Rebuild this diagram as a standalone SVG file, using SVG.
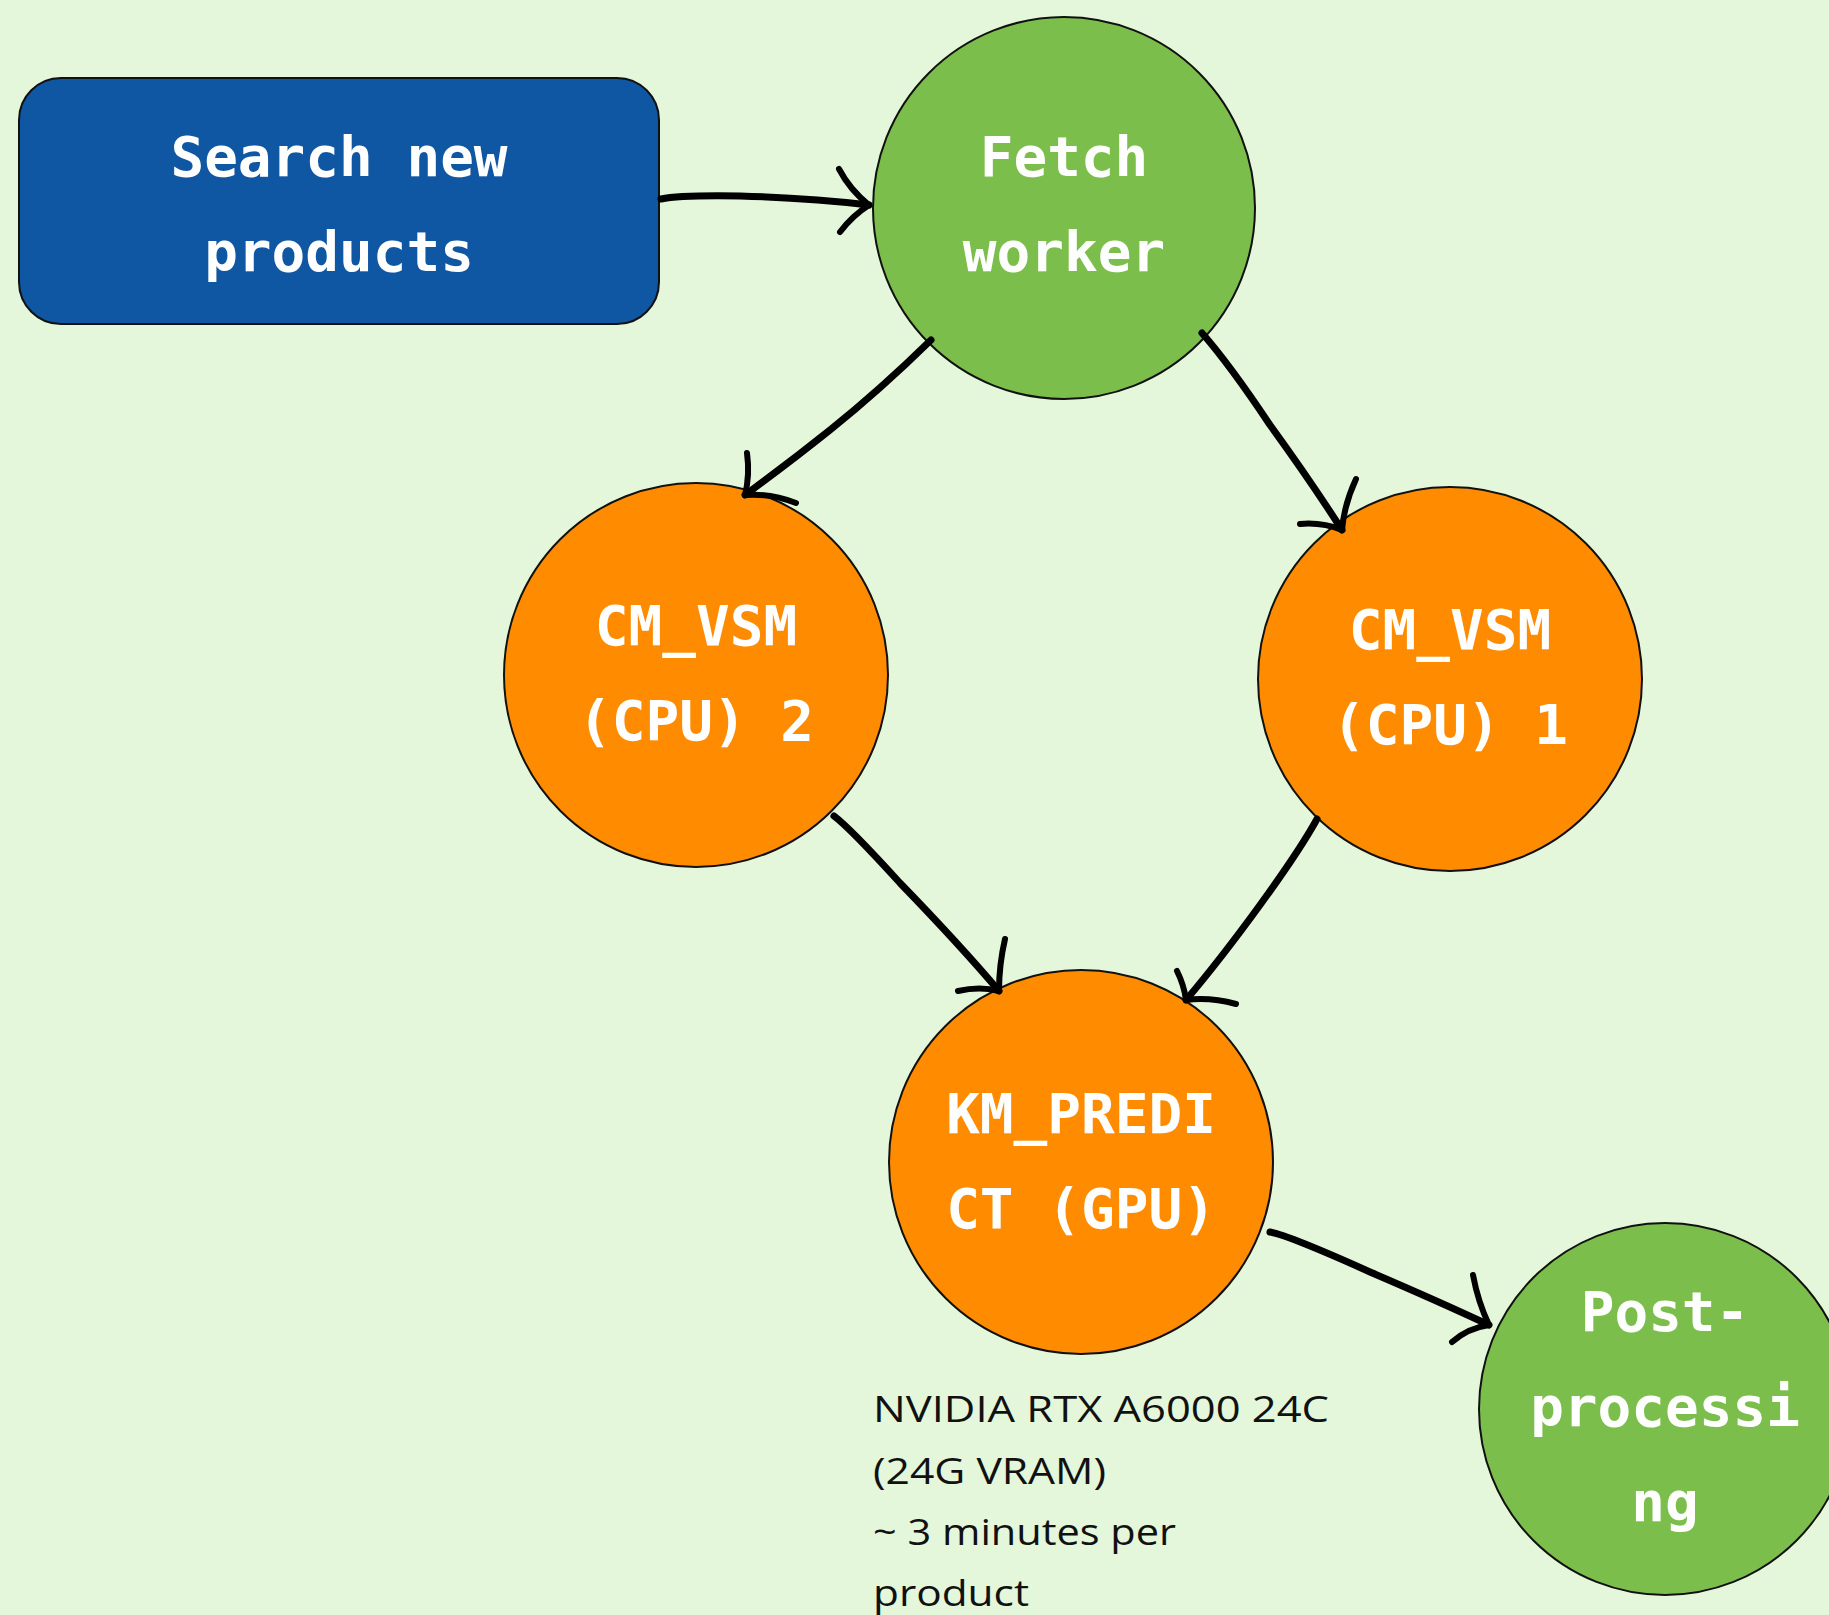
<svg xmlns="http://www.w3.org/2000/svg" width="1829" height="1615" viewBox="0 0 1829 1615">
  <style>
    .lbl { font-family: "DejaVu Sans Mono", "Liberation Mono", monospace; font-weight: bold; font-size: 56px; fill: #ffffff; text-anchor: middle; }
    .note { font-family: "Open Sans", "Noto Sans", sans-serif; font-size: 37px; fill: #111111; }
    .node { stroke: #111111; stroke-width: 2; }
    .edge { fill: none; stroke: #000000; stroke-width: 7; stroke-linecap: round; stroke-linejoin: round; }
    .barb { fill: none; stroke: #000000; stroke-width: 6; stroke-linecap: round; }
  </style>
  <rect width="1829" height="1615" fill="#e4f7da"/>

  <g id="search">
    <rect class="node" x="19" y="78" width="640" height="246" rx="42" fill="#0f56a3" stroke="#444444"/>
    <text class="lbl" x="339" y="176">Search new</text>
    <text class="lbl" x="339" y="271">products</text>
  </g>

  <g id="fetch">
    <circle class="node" cx="1064" cy="208" r="191" fill="#7cbe4c"/>
    <text class="lbl" x="1064" y="176">Fetch</text>
    <text class="lbl" x="1064" y="271">worker</text>
  </g>

  <g id="cmvsm2">
    <circle class="node" cx="696" cy="675" r="192" fill="#ff8b00"/>
    <text class="lbl" x="696" y="645">CM_VSM</text>
    <text class="lbl" x="696" y="740">(CPU) 2</text>
  </g>

  <g id="cmvsm1">
    <circle class="node" cx="1450" cy="679" r="192" fill="#ff8b00"/>
    <text class="lbl" x="1450" y="649">CM_VSM</text>
    <text class="lbl" x="1450" y="744">(CPU) 1</text>
  </g>

  <g id="kmpredict">
    <circle class="node" cx="1081" cy="1162" r="192" fill="#ff8b00"/>
    <text class="lbl" x="1081" y="1133">KM_PREDI</text>
    <text class="lbl" x="1081" y="1228">CT (GPU)</text>
  </g>

  <g id="postprocessing">
    <circle class="node" cx="1665" cy="1409" r="186" fill="#7cbe4c"/>
    <text class="lbl" x="1665" y="1331">Post-</text>
    <text class="lbl" x="1665" y="1426">processi</text>
    <text class="lbl" x="1665" y="1521">ng</text>
  </g>

  <g id="gpu-note">
    <text class="note" x="873" y="1422" textLength="456" lengthAdjust="spacingAndGlyphs">NVIDIA RTX A6000 24C</text>
    <text class="note" x="873" y="1484" textLength="233" lengthAdjust="spacingAndGlyphs">(24G VRAM)</text>
    <text class="note" x="873" y="1545" textLength="303" lengthAdjust="spacingAndGlyphs">~ 3 minutes per</text>
    <text class="note" x="873" y="1606" textLength="156" lengthAdjust="spacingAndGlyphs">product</text>
  </g>

  <g id="connectors">
    <!-- search -> fetch -->
    <path class="edge" d="M661 199 Q680 195 740 196 Q810 198 869 205"/>
    <path class="barb" d="M839 169 Q850 190 869 205"/>
    <path class="barb" d="M840 232 Q852 216 869 205"/>
    <!-- fetch -> cm_vsm 2 -->
    <path class="edge" d="M931 340 Q880 390 830 430 Q790 462 745 495"/>
    <path class="barb" d="M747 453 Q750 475 745 495"/>
    <path class="barb" d="M796 503 Q770 493 745 495"/>
    <!-- fetch -> cm_vsm 1 -->
    <path class="edge" d="M1202 333 Q1230 365 1270 425 Q1310 480 1342 530"/>
    <path class="barb" d="M1356 479 Q1344 505 1342 530"/>
    <path class="barb" d="M1300 524 Q1322 522 1342 530"/>
    <!-- cm_vsm 2 -> km_predict -->
    <path class="edge" d="M834 816 Q850 828 900 883 Q960 945 999 991"/>
    <path class="barb" d="M1005 939 Q999 965 999 991"/>
    <path class="barb" d="M958 991 Q980 986 999 991"/>
    <!-- cm_vsm 1 -> km_predict -->
    <path class="edge" d="M1317 819 Q1300 850 1260 905 Q1220 960 1186 1000"/>
    <path class="barb" d="M1177 971 Q1184 985 1186 1000"/>
    <path class="barb" d="M1236 1004 Q1210 997 1186 1000"/>
    <!-- km_predict -> post-processing -->
    <path class="edge" d="M1270 1232 Q1290 1236 1370 1272 Q1440 1302 1489 1325"/>
    <path class="barb" d="M1473 1275 Q1478 1302 1489 1325"/>
    <path class="barb" d="M1452 1342 Q1468 1328 1489 1325"/>
  </g>
</svg>
